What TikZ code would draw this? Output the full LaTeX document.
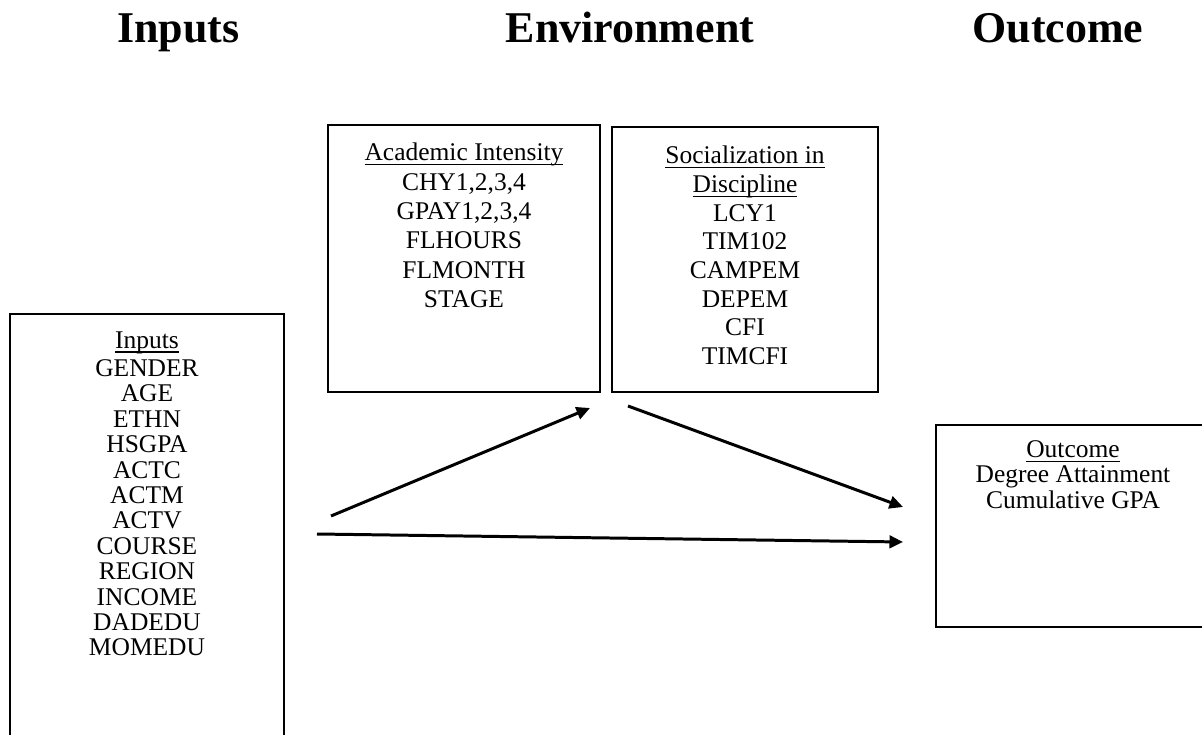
\documentclass[tikz,border=0pt]{standalone}
\usepackage{fontspec}
\setmainfont{Liberation Serif}
\usetikzlibrary{positioning,arrows.meta}
\newlength\headwd
\newcommand\headline[1]{\settowidth{\headwd}{#1}\rlap{\rule[-0.17em]{\headwd}{0.05em}}#1}

\begin{document}
\begin{tikzpicture}[
  box/.style={draw=black,line width=0.85pt,inner sep=0pt},
  heading/.style={font=\fontsize{25}{30}\selectfont\bfseries,anchor=base,inner sep=0pt},
  vars/.style={align=center,inner sep=0pt},
  flow/.style={-{Triangle[length=0.27cm,width=0.25cm]},line width=1.7pt}
]
\useasboundingbox (0,0) rectangle (24.04,14.68);
\node[heading] (hin) at (3.57,13.82) {Inputs};
\node[heading] (henv) at (12.6,13.82) {Environment};
\node[heading] (hout) at (21.16,13.82) {Outcome};
\node[box,minimum width=5.48cm,minimum height=8.6cm] (inputs) at (2.94,4.1) {};
\node[box,minimum width=5.44cm,minimum height=5.34cm] (acad) at (9.28,9.51) {};
\node[box,minimum width=5.32cm,minimum height=5.30cm] (social) at (14.9,9.49) {};
\node[box,minimum width=5.48cm,minimum height=4.04cm] (outcome) at (21.46,4.16) {};
\node[vars,font=\fontsize{14.5}{14.45}\selectfont,below=0.36cm of inputs.north] (intxt) {\headline{Inputs}\\[1.6pt]GENDER\\AGE\\ETHN\\HSGPA\\ACTC\\ACTM\\ACTV\\COURSE\\REGION\\INCOME\\DADEDU\\MOMEDU};
\node[vars,font=\fontsize{14.5}{16.73}\selectfont,below=0.37cm of acad.north] (acadtxt) {\headline{Academic Intensity}\\CHY1,2,3,4\\GPAY1,2,3,4\\FLHOURS\\FLMONTH\\STAGE};
\node[vars,font=\fontsize{14.5}{16.33}\selectfont,below=0.39cm of social.north] (socialtxt) {\headline{Socialization in}\\\headline{Discipline}\\LCY1\\TIM102\\CAMPEM\\DEPEM\\CFI\\TIMCFI};
\node[vars,font=\fontsize{14.5}{14.5}\selectfont,below=0.32cm of outcome.north] (outtxt) {\headline{Outcome}\\Degree Attainment\\Cumulative GPA};
\coordinate (upfrom) at (6.62,4.36);
\coordinate (upto) at (11.8,6.52);
\coordinate (downfrom) at (12.56,6.56);
\coordinate (downto) at (18.06,4.54);
\coordinate (directfrom) at (6.34,4.0);
\coordinate (directto) at (18.06,3.84);
\draw[flow] (upfrom) -- (upto);
\draw[flow] (downfrom) -- (downto);
\draw[flow] (directfrom) -- (directto);
\end{tikzpicture}
\end{document}
